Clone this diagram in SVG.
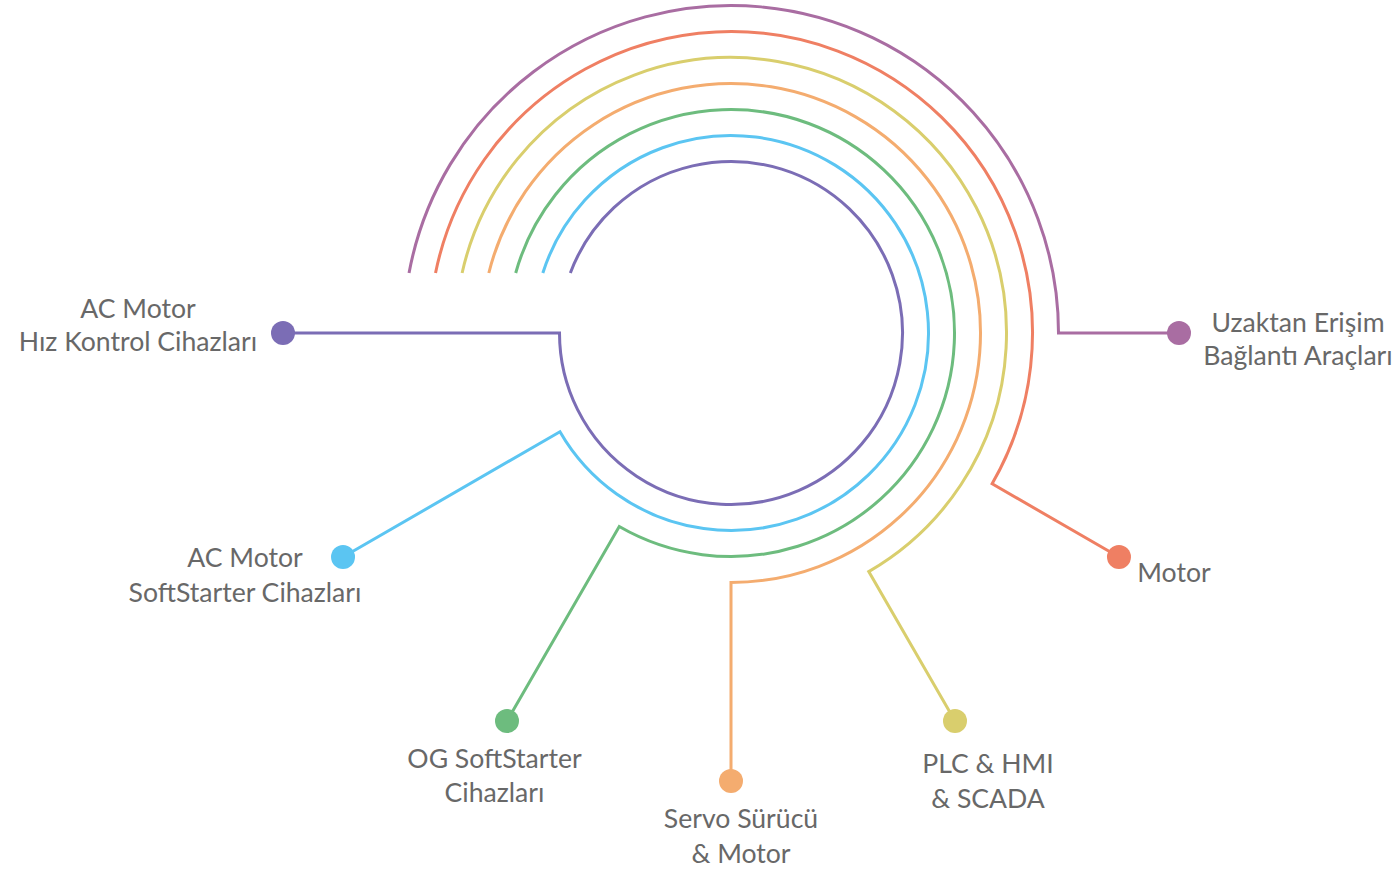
<svg xmlns="http://www.w3.org/2000/svg" width="1398" height="871" viewBox="0 0 1398 871">
<style>
.c{fill:none;stroke-width:3;stroke-linejoin:miter;stroke-linecap:butt}
.t{font-family:Lato,"Open Sans","Liberation Sans",sans-serif;font-size:26.6px;fill:#686868;text-anchor:middle}
.purple{stroke:#7B6DB5}.blue{stroke:#5BC5F2}.green{stroke:#6DBC7E}.orange{stroke:#F4AC6F}.yellow{stroke:#D9CE6D}.red{stroke:#EF7F63}.magenta{stroke:#A96DA2}
</style>
<rect width="1398" height="871" fill="#ffffff"/>
<g id="connectors">
<path class="c purple" d="M570.34,273 A171.5,171.5 0 1 1 559.5,333 L283,333"/>
<path class="c blue" d="M542.83,273 A197.5,197.5 0 1 1 559.96,431.75 L343.02,557"/>
<path class="c green" d="M515.7,273 A223.5,223.5 0 1 1 619.25,526.56 L507,720.98"/>
<path class="c orange" d="M488.82,273 A249.5,249.5 0 1 1 731,582.5 L731,781"/>
<path class="c yellow" d="M462.11,273 A275.5,275.5 0 1 1 868.75,571.59 L955,720.98"/>
<path class="c red" d="M435.53,273 A301.5,301.5 0 1 1 992.11,483.75 L1118.98,557"/>
<path class="c magenta" d="M409.04,273 A327.5,327.5 0 0 1 1058.5,333 L1179,333"/>
</g>
<g id="node-ac-hiz">
<circle cx="283" cy="333" r="12" fill="#7B6DB5"/>
<text class="t" x="138" y="318">AC Motor</text>
<text class="t" x="138" y="351">Hız Kontrol Cihazları</text>
</g>
<g id="node-ac-soft">
<circle cx="343.02" cy="557" r="12" fill="#5BC5F2"/>
<text class="t" x="245" y="567">AC Motor</text>
<text class="t" x="245" y="602">SoftStarter Cihazları</text>
</g>
<g id="node-og-soft">
<circle cx="507" cy="720.98" r="12" fill="#6DBC7E"/>
<text class="t" x="494.5" y="768">OG SoftStarter</text>
<text class="t" x="494.5" y="802">Cihazları</text>
</g>
<g id="node-servo">
<circle cx="731" cy="781" r="12" fill="#F4AC6F"/>
<text class="t" x="741" y="828">Servo Sürücü</text>
<text class="t" x="741" y="863">&amp; Motor</text>
</g>
<g id="node-plc">
<circle cx="955" cy="720.98" r="12" fill="#D9CE6D"/>
<text class="t" x="988" y="773">PLC &amp; HMI</text>
<text class="t" x="988" y="808">&amp; SCADA</text>
</g>
<g id="node-motor">
<circle cx="1118.98" cy="557" r="12" fill="#EF7F63"/>
<text class="t" x="1174" y="582">Motor</text>
</g>
<g id="node-uzaktan">
<circle cx="1179" cy="333" r="12" fill="#A96DA2"/>
<text class="t" x="1298" y="332">Uzaktan Erişim</text>
<text class="t" x="1298" y="365">Bağlantı Araçları</text>
</g>
</svg>
